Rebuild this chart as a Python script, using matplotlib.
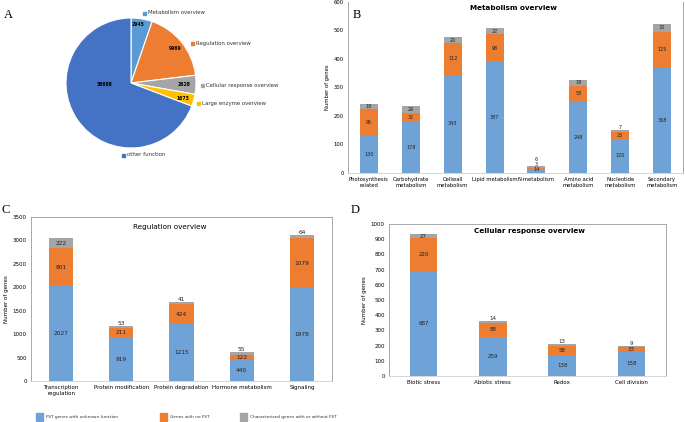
import matplotlib.pyplot as plt
import numpy as np

# Pie data (panel A)
pie_labels = ["Metabolism overview", "Regulation overview", "Cellular response overview",
              "Large enzyme overview", "other function"]
pie_values = [2945, 9969, 2628, 1673, 38688]
pie_colors = ["#5B9BD5", "#ED7D31", "#A5A5A5", "#FFC000", "#4472C4"]

# Metabolism overview (panel B)
met_cats = ["Photosynthesis\nrelated", "Carbohydrate\nmetabolism", "Cellwall\nmetabolism",
            "Lipid metabolism", "N-metabolism", "Amino acid\nmetabolism",
            "Nucleotide\nmetabolism", "Secondary\nmetabolism"]
met_unknown = [130, 178, 343, 387, 14, 248, 120, 368]
met_nofst = [95, 32, 112, 98, 3, 58, 25, 125]
met_char = [18, 26, 20, 22, 6, 18, 7, 30]

# Regulation overview (panel C)
reg_cats = ["Transcription\nregulation", "Protein modification", "Protein degradation",
            "Hormone metabolism", "Signaling"]
reg_unknown = [2027, 919, 1215, 440, 1978]
reg_nofst = [801, 211, 424, 122, 1079]
reg_char = [222, 53, 41, 55, 64]

# Cellular response overview (panel D)
cell_cats = ["Biotic stress", "Abiotic stress", "Redox", "Cell division"]
cell_unknown = [687, 259, 138, 158]
cell_nofst = [220, 88, 58, 33]
cell_char = [27, 14, 13, 9]

series_names = ["FST genes with unknown function", "Genes with no FST",
                "Characterized genes with or without FST"]
bar_colors = ["#6FA3D8", "#ED7D31", "#A5A5A5"]

W, H = 685, 422
fig = plt.figure(figsize=(W / 100, H / 100), dpi=100)


def fx(px):
    return px / W


def fy(py):
    return 1 - py / H


def axes_px(left, top, right, bottom):
    return fig.add_axes([fx(left), fy(bottom), fx(right - left), (bottom - top) / H])


# ---- Panel A: pie ----
axp = axes_px(66, 18, 196, 148)
wedges, _ = axp.pie(pie_values, colors=pie_colors, startangle=90, counterclock=False,
                    wedgeprops=dict(edgecolor="white", linewidth=0.8))
axp.set_xlim(-1, 1)
axp.set_ylim(-1, 1)
axp.set_aspect("equal")
value_pos = [(138, 25), (175, 49), (184, 85), (183, 98), (105, 84)]
for v, (x, y) in zip(pie_values, value_pos):
    fig.text(fx(x), fy(y), str(v), fontsize=3.3, fontweight="bold", ha="center", va="center")
label_pos = [(143, 13), (191, 43), (201, 85), (197, 103), (122, 155)]
for lab, c, (x, y) in zip(pie_labels, pie_colors, label_pos):
    fig.patches.append(plt.Rectangle((fx(x), fy(y + 1.7)), fx(3.2), 3.2 / H, color=c,
                                     transform=fig.transFigure, figure=fig))
    fig.text(fx(x + 5), fy(y), lab, fontsize=3.9, ha="left", va="center", color="#333333")
fig.text(fx(8), fy(15), "A", fontsize=9, family="Liberation Serif", ha="center", va="center")


def stacked(ax, cats, unknown, nofst, char, ymax, step, width, fs_lab, fs_tick):
    x = np.arange(len(cats))
    ax.bar(x, unknown, width, color=bar_colors[0])
    ax.bar(x, nofst, width, bottom=unknown, color=bar_colors[1])
    base = np.array(unknown) + np.array(nofst)
    ax.bar(x, char, width, bottom=base, color=bar_colors[2])
    kw = dict(ha="center", fontsize=fs_lab, color="#222222")
    for xi, u, n, c in zip(x, unknown, nofst, char):
        if u + n + c < ymax * 0.06:
            # tiny bar: stack the three labels upward from the baseline
            for k, val in enumerate([u, n, c]):
                ax.annotate(str(val), (xi, 0), xytext=(0, 0.5 + 3.6 * k),
                            textcoords="offset points", va="bottom", **kw)
            continue
        ax.text(xi, u / 2, str(u), va="center", **kw)
        ax.text(xi, u + n / 2, str(n), va="center", **kw)
        if c > ymax * 0.025:
            ax.text(xi, u + n + c / 2, str(c), va="center", **kw)
        else:
            ax.text(xi, u + n + c, str(c), va="bottom", **kw)
    ax.set_xlim(-0.5, len(cats) - 0.5)
    ax.set_ylim(0, ymax)
    ax.set_yticks(np.arange(0, ymax + 1, step))
    ax.set_xticks(x)
    ax.set_xticklabels(cats, fontsize=fs_tick)
    ax.tick_params(axis="both", length=0, labelsize=fs_tick, pad=3)
    ax.set_ylabel("Number of genes", fontsize=fs_tick, labelpad=3)
    for s in ax.spines.values():
        s.set_color("#9A9A9A")
        s.set_linewidth(0.6)
    ax.spines["bottom"].set_color("#D0D0D0")


# ---- Panel B ----
axb = axes_px(348, 1.5, 683, 173)
stacked(axb, met_cats, met_unknown, met_nofst, met_char, 600, 100, 0.43, 3.5, 3.8)
axb.spines["top"].set_visible(False)
fig.text(fx(513), fy(8), "Metabolism overview", fontsize=5.2, fontweight="bold",
         ha="center", va="center")
fig.text(fx(357), fy(15), "B", fontsize=9, family="Liberation Serif", ha="center", va="center")

# ---- Panel C ----
axc = axes_px(31, 217, 332, 381)
stacked(axc, reg_cats, reg_unknown, reg_nofst, reg_char, 3500, 500, 0.4, 4.2, 4.0)
fig.text(fx(170), fy(227), "Regulation overview", fontsize=5.2, ha="center", va="center")
fig.text(fx(6), fy(210), "C", fontsize=9, family="Liberation Serif", ha="center", va="center")

# ---- Panel D ----
axd = axes_px(389, 224, 666, 376)
stacked(axd, cell_cats, cell_unknown, cell_nofst, cell_char, 1000, 100, 0.4, 4.0, 4.0)
fig.text(fx(530), fy(231), "Cellular response overview", fontsize=5.2, fontweight="bold",
         ha="center", va="center")
fig.text(fx(355), fy(210), "D", fontsize=9, family="Liberation Serif", ha="center", va="center")

# ---- Legend ----
leg_x = [39, 163, 243]
for name, c, x in zip(series_names, bar_colors, leg_x):
    fig.patches.append(plt.Rectangle((fx(x - 3), fy(421)), fx(7), 8 / H, color=c,
                                     transform=fig.transFigure, figure=fig))
    fig.text(fx(x + 7), fy(417), name, fontsize=3.1, ha="left", va="center", color="#333333")

fig.savefig("out.png", dpi=100)
